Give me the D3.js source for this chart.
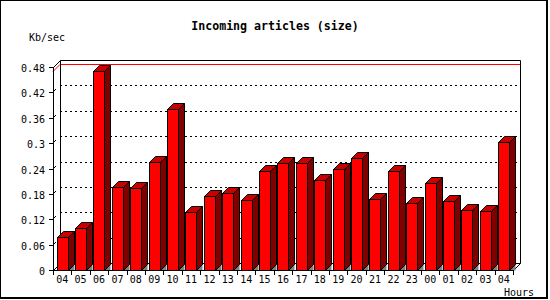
<!DOCTYPE html>
<html>
<head>
<meta charset="utf-8">
<script src="https://cdn.jsdelivr.net/npm/d3@7"></script>
<style>
  body { margin: 0; background: #fff; }
  text { font-family: "DejaVu Sans Mono", monospace; fill: #000; }
</style>
</head>
<body>
<svg id="chart"></svg>
<script>
const hours = ["04","05","06","07","08","09","10","11","12","13","14","15","16",
               "17","18","19","20","21","22","23","00","01","02","03","04"];
const sizes = [0.078, 0.100, 0.470, 0.196, 0.194, 0.255, 0.381, 0.137, 0.175, 0.182,
               0.165, 0.235, 0.252, 0.252, 0.213, 0.238, 0.265, 0.168, 0.233, 0.158,
               0.206, 0.162, 0.142, 0.139, 0.303];
const yTicks = [0, 0.06, 0.12, 0.18, 0.24, 0.3, 0.36, 0.42, 0.48];

const width = 550, height = 300;
const plot = {left: 53, right: 513, bottom: 270, top: 67};
const depth = 7;      // wall depth
const bdepth = 6;     // bar depth

const svg = d3.select('#chart').attr('width', width).attr('height', height);

svg.append('rect')
    .attr('x', 0).attr('y', 0)
    .attr('width', 547).attr('height', 298)
    .attr('fill', 'none').attr('stroke', '#000').attr('stroke-width', 2);

const xscale = d3.scaleBand()
    .domain(d3.range(hours.length))
    .range([plot.left, plot.right]);

const yscale = d3.scaleLinear()
    .domain([0, 0.48])
    .range([plot.bottom, plot.top]);

const bw = xscale.bandwidth();
const g = svg.append('g');
const L = plot.left, R = plot.right, B = plot.bottom, T = plot.top;

// back wall gridlines (dotted) + short left wall diagonals
yTicks.filter(t => t > 0 && t < 0.48).forEach(t => {
    const y = Math.round(yscale(t));
    g.append('line')
        .attr('x1', L + depth).attr('x2', R + depth)
        .attr('y1', y - depth + 0.5).attr('y2', y - depth + 0.5)
        .attr('stroke', '#000').attr('stroke-dasharray', '2,3');
    g.append('line')
        .attr('x1', L + 1).attr('y1', y - 1)
        .attr('x2', L + 3).attr('y2', y - 3)
        .attr('stroke', '#000');
});

// max line
const ymax = Math.round(yscale(d3.max(sizes))) + 0.5;
g.append('path')
    .attr('d', `M${L},${ymax} L${L + depth},${ymax - depth} L${R + depth},${ymax - depth}`)
    .attr('fill', 'none').attr('stroke', '#ff0000');

// frame lines
const frame = [
    [[L, T], [L + depth, T - depth], [R + depth, T - depth], [R + depth, B - depth], [R, B]],
    [[L + depth, T - depth], [L + depth, B - depth], [R + depth, B - depth]],
    [[L, B], [L + depth, B - depth]]
];
frame.forEach(pts => {
    g.append('path')
        .attr('d', d3.line()(pts.map(p => [p[0] + 0.5, p[1] + 0.5])))
        .attr('fill', 'none').attr('stroke', '#000');
});

// bars
const bars = g.selectAll('g.bar')
    .data(sizes)
    .join('g')
    .attr('class', 'bar');

const fx = i => Math.round(xscale(i) + 3.5) + 0.5;
const fy = d => Math.round(yscale(d)) + 0.5;
const fw = 11;

bars.append('path')   // shadow
    .attr('d', (d, i) => {
        const x = fx(i) + fw, y = B + 0.5;
        return `M${x},${y} L${x + bdepth},${y - bdepth} L${x + bdepth},${y} Z`;
    })
    .attr('fill', '#808080');

bars.append('path')   // side
    .attr('d', (d, i) => {
        const x = fx(i) + fw, y0 = B + 0.5, y1 = fy(d);
        return `M${x},${y0} L${x + bdepth},${y0 - bdepth} L${x + bdepth},${y1 - bdepth} L${x},${y1} Z`;
    })
    .attr('fill', '#800000').attr('stroke', '#000');

bars.append('path')   // top
    .attr('d', (d, i) => {
        const x = fx(i), y1 = fy(d);
        return `M${x},${y1} L${x + bdepth},${y1 - bdepth} L${x + fw + bdepth},${y1 - bdepth} L${x + fw},${y1} Z`;
    })
    .attr('fill', '#c80000').attr('stroke', '#000');

bars.append('rect')   // front
    .attr('x', (d, i) => fx(i))
    .attr('y', d => fy(d))
    .attr('width', fw)
    .attr('height', d => B + 0.5 - fy(d))
    .attr('fill', '#ff0000').attr('stroke', '#000');

// front axes
g.append('path')
    .attr('d', `M${L + 0.5},${T} L${L + 0.5},${B + 0.5} L${R},${B + 0.5}`)
    .attr('fill', 'none').attr('stroke', '#000');

// y ticks and labels
yTicks.forEach(t => {
    const y = Math.round(yscale(t)) + 0.5;
    svg.append('line')
        .attr('x1', L - 4).attr('x2', L)
        .attr('y1', y).attr('y2', y)
        .attr('stroke', '#000');
    svg.append('text')
        .attr('x', L - 8).attr('y', y + 4)
        .attr('text-anchor', 'end')
        .style('font-size', '10px')
        .text(t === 0 ? '0' : String(t));
});

// x ticks and labels
d3.range(hours.length + 1).forEach(i => {
    const x = Math.round(L + i * bw) + 0.5;
    svg.append('line')
        .attr('x1', x).attr('x2', x)
        .attr('y1', B).attr('y2', B + 5)
        .attr('stroke', '#000');
});
hours.forEach((h, i) => {
    svg.append('text')
        .attr('x', xscale(i) + bw / 2)
        .attr('y', 283)
        .attr('text-anchor', 'middle')
        .style('font-size', '10px')
        .text(h);
});

svg.append('text')
    .attr('x', 275).attr('y', 30)
    .attr('text-anchor', 'middle')
    .style('font-size', '11.6px').style('font-weight', 'bold')
    .text('Incoming articles (size)');

svg.append('text')
    .attr('x', 29).attr('y', 41)
    .style('font-size', '10px')
    .text('Kb/sec');

svg.append('text')
    .attr('x', 504).attr('y', 296)
    .style('font-size', '10px')
    .text('Hours');
</script>
</body>
</html>
